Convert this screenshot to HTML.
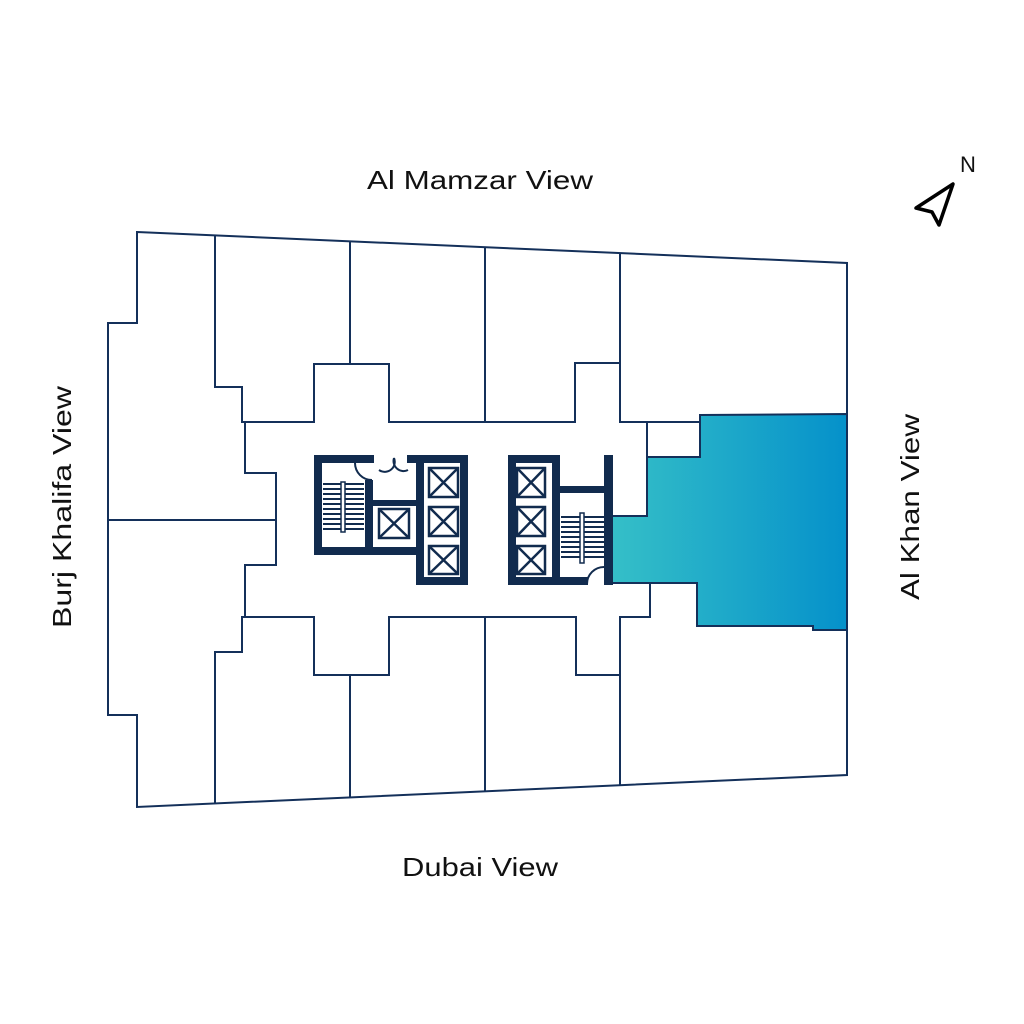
<!DOCTYPE html>
<html><head><meta charset="utf-8"><style>
html,body{margin:0;padding:0;background:#fff;}
svg{display:block;}
text{font-family:"Liberation Sans","DejaVu Sans",sans-serif;fill:#111;}
</style></head><body>
<svg width="1024" height="1024" viewBox="0 0 1024 1024" xmlns="http://www.w3.org/2000/svg">
<defs>
<linearGradient id="g" x1="0" x2="1" y1="0" y2="0">
<stop offset="0" stop-color="#35bfc8"/><stop offset="1" stop-color="#0591ca"/>
</linearGradient>
</defs>
<!-- highlight -->
<path d="M700,415 L847,414 L847,630 L813,630 L813,626 L697,626 L697,583 L650,583 L612,583 L612,516 L647,516 L647,457 L700,457 Z" fill="url(#g)" stroke="#14305a" stroke-width="2"/>
<g fill="none" stroke="#14305a" stroke-width="2" stroke-linejoin="miter">
<!-- outer -->
<path d="M137,232 L847,263 L847,775 L137,807 L137,715 L108,715 L108,323 L137,323 Z"/>
<!-- top rooms -->
<path d="M215,236 L215,387 L242,387 L242,422 L314,422 L314,364 L389,364 L389,422 L575,422 L575,363 L620,363 L620,422 L700,422"/>
<path d="M350,242 L350,364"/>
<path d="M485,247 L485,422"/>
<path d="M620,254 L620,422"/>
<path d="M647,422 L647,457"/>
<!-- left core edge -->
<path d="M245,422 L245,473 L276,473 L276,565 L245,565 L245,617 L242,617 L242,652 L215,652 L215,803"/>
<path d="M108,520 L276,520"/>
<!-- bottom rooms -->
<path d="M245,617 L314,617 L314,675 L389,675 L389,617 L576,617 L576,675 L620,675 L620,617 L650,617 L650,583"/>
<path d="M350,675 L350,797"/>
<path d="M485,617 L485,791"/>
<path d="M620,675 L620,785"/>
</g>
<!-- core walls -->
<g fill="#112b4e">
<!-- left stair box -->
<rect x="314" y="455" width="60" height="8"/>
<rect x="314" y="455" width="8" height="100"/>
<rect x="314" y="547" width="102" height="8"/>
<rect x="365" y="480" width="8" height="75"/>
<rect x="372" y="500" width="44" height="6"/>
<rect x="407" y="455" width="61" height="8"/>
<!-- left elevator shaft -->
<rect x="416" y="455" width="8" height="130"/>
<rect x="460" y="455" width="8" height="130"/>
<rect x="416" y="577" width="52" height="8"/>
<!-- right block -->
<rect x="508" y="455" width="52" height="8"/>
<rect x="508" y="455" width="8" height="130"/>
<rect x="552" y="455" width="8" height="130"/>
<rect x="508" y="577" width="80" height="8"/>
<rect x="560" y="486" width="45" height="7"/>
<rect x="604" y="455" width="9" height="130"/>
</g>
<!-- stairs -->
<g stroke="#112b4e" stroke-width="2">
<path d="M323,484H364M323,489H364M323,494H364M323,499H364M323,504H364M323,509H364M323,514H364M323,519H364M323,524H364M323,529H364"/>
<path d="M561,517H604M561,522H604M561,527H604M561,532H604M561,537H604M561,542H604M561,547H604M561,552H604M561,557H604"/>
</g>
<rect x="341" y="482" width="4" height="50" fill="#fff" stroke="#112b4e" stroke-width="1.5"/>
<rect x="580" y="513" width="4" height="50" fill="#fff" stroke="#112b4e" stroke-width="1.5"/>
<!-- doors -->
<g fill="none" stroke="#112b4e" stroke-width="2">
<path d="M355,463 A17,17 0 0 0 372,480"/>
<path d="M379,470 A10,10 0 0 0 394,458 M394,458 A10,10 0 0 0 408,470"/>
<path d="M587,584 A17,17 0 0 1 604,567"/>
</g>
<!-- elevator cars -->
<g fill="none" stroke="#112b4e" stroke-width="2.5">
<rect x="429" y="468" width="29" height="29"/><path d="M429,468L458,497M458,468L429,497"/>
<rect x="429" y="507" width="29" height="29"/><path d="M429,507L458,536M458,507L429,536"/>
<rect x="429" y="546" width="29" height="28"/><path d="M429,546L458,574M458,546L429,574"/>
<rect x="517" y="468" width="28" height="29"/><path d="M517,468L545,497M545,468L517,497"/>
<rect x="517" y="507" width="28" height="29"/><path d="M517,507L545,536M545,507L517,536"/>
<rect x="517" y="546" width="28" height="28"/><path d="M517,546L545,574M545,546L517,574"/>
<rect x="379" y="509" width="30" height="29"/><path d="M379,509L409,538M409,509L379,538"/>
</g>
<!-- labels -->
<text x="480" y="189" font-size="26" text-anchor="middle" textLength="226" lengthAdjust="spacingAndGlyphs">Al Mamzar View</text>
<text x="480" y="876" font-size="26" text-anchor="middle" textLength="156" lengthAdjust="spacingAndGlyphs">Dubai View</text>
<text transform="translate(71,507) rotate(-90)" font-size="26" text-anchor="middle" textLength="242" lengthAdjust="spacingAndGlyphs">Burj Khalifa View</text>
<text transform="translate(919,507) rotate(-90)" font-size="26" text-anchor="middle" textLength="186" lengthAdjust="spacingAndGlyphs">Al Khan View</text>
<!-- compass -->
<path d="M916,208 L953,184 L939,225 L932,212 Z" fill="none" stroke="#000" stroke-width="3.5" stroke-linejoin="round"/>
<text x="968" y="172" font-size="22" text-anchor="middle">N</text>
</svg>
</body></html>
